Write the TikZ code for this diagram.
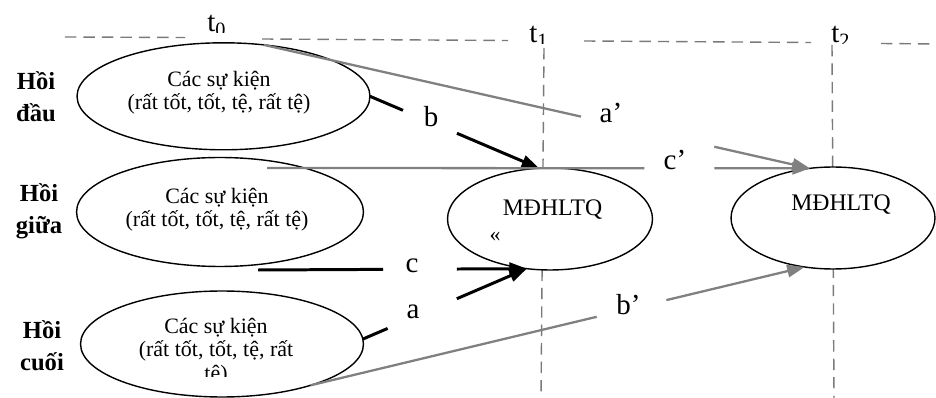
\documentclass[tikz,border=0pt]{standalone}
\usepackage{fontspec}
\setmainfont{Liberation Serif}
\usetikzlibrary{arrows.meta,calc,shapes.geometric}
\definecolor{ink}{HTML}{000000}
\definecolor{ink2}{HTML}{808080}
\definecolor{ink3}{HTML}{7A7A7A}
\tikzset{
  every picture/.style={line join=round},
  evt/.style={ellipse, draw=ink, fill=white, line width=0.8pt, inner sep=0pt, outer sep=0pt},
  evtxt/.style={font=\fontsize{12.5}{13.3}\selectfont, align=center, inner sep=0pt},
  mtxt/.style={font=\fontsize{13.5}{15}\selectfont, inner sep=0pt},
  hoi/.style={font=\fontsize{14}{18}\selectfont\bfseries, align=center, inner sep=0pt},
  tlbl/.style={font=\fontsize{16.5}{18}\selectfont, inner sep=0pt, anchor=base},
  timeline/.style={draw=ink3, line width=0.8pt, dash pattern=on 6.5pt off 4pt},
  blkline/.style={draw=ink, line width=1.7pt},
  blkarr/.style={blkline, -{Triangle[length=10pt,width=7pt]}},
  gryline/.style={draw=ink2, line width=1.3pt},
  gryarr/.style={gryline, -{Triangle[length=10pt,width=7pt]}},
}
\begin{document}
\begin{tikzpicture}[x=0.02cm, y=-0.02cm]
  \useasboundingbox (0,0) rectangle (936,398);
  % ---------------- time axis ----------------
  \draw[timeline] (65,37) -- (185,37.5);
  \draw[timeline] (262,39) -- (508,40.5);
  \draw[timeline] (584,41) -- (811,42.5);
  \draw[timeline] (881,43.5) -- (936,44);
  \draw[timeline] (544,48) -- (541,398);
  \draw[timeline] (832,45) -- (834,398);
  \begin{scope}
    \clip (195,0) rectangle (240,32.5) (520,0) rectangle (560,43.5) (820,0) rectangle (860,43.5);
    \node[tlbl, anchor=base west] (t0) at (207,32) {t\textsubscript{0}};
    \node[tlbl, anchor=base west] (t1) at (529,43) {t\textsubscript{1}};
    \node[tlbl, anchor=base west] (t2) at (831,43) {t\textsubscript{2}};
  \end{scope}

  % ---------------- events and states ----------------
  \node[evt, minimum width=5.86cm, minimum height=2.14cm] (E1) at (223.5,96.3) {};
  \node[evt, minimum width=5.74cm, minimum height=2.18cm] (E2) at (220,212) {};
  \node[evt, minimum width=5.66cm, minimum height=2.12cm] (E3) at (222,344) {};
  \node[evt, minimum width=4.1cm, minimum height=2.04cm] (M1) at (550,219) {};
  \node[evt, minimum width=4.08cm, minimum height=2.04cm] (M2) at (833,218) {};

  \node[evtxt] (E1t) at (219,93) {Các sự kiện\\(rất tốt, tốt, tệ, rất tệ)};
  \node[evtxt] (E2t) at (217,210) {Các sự kiện\\(rất tốt, tốt, tệ, rất tệ)};
  \begin{scope}
    \clip (100,300) rectangle (340,376);
    \node[evtxt] (E3t) at (216,351.5) {Các sự kiện\\(rất tốt, tốt, tệ, rất\\tệ)};
  \end{scope}
  \node[mtxt, anchor=base] (M1t) at (552.5,216) {MĐHLTQ};
  \node[evtxt, anchor=base] (M1q) at (495,242) {«};
  \node[mtxt, anchor=base] (M2t) at (841,211) {MĐHLTQ};

  \node[hoi] (L1) at (36,97) {Hồi\\đầu};
  \node[hoi] (L2) at (39,211) {Hồi\\giữa};
  \node[hoi] (L3) at (42,346) {Hồi\\cuối};

  % ---------------- influences ----------------
  \coordinate (cpS) at (267,168);
  \coordinate (cS) at (258,270);
  % b
  \draw[blkline] (E1.east) -- ($(E1.east)!0.195!(M1.102)$);
  \draw[blkarr] ($(E1.east)!0.514!(M1.102)$) -- (M1.102);
  % c
  \draw[blkline] (cS) -- ($(cS)!0.465!(M1.-115)$);
  \draw[blkarr] ($(cS)!0.74!(M1.-115)$) -- (M1.-115);
  % a
  \draw[blkline] (E3.2) -- ($(E3.2)!0.151!(M1.-115)$);
  \draw[blkarr] ($(E3.2)!0.573!(M1.-115)$) -- (M1.-115);
  % a'
  \draw[gryline] (E1.52) -- ($(E1.52)!0.581!(M2.115)$);
  \draw[gryarr] ($(E1.52)!0.825!(M2.115)$) -- (M2.115);
  % c'
  \draw[gryline] (cpS) -- ($(cpS)!0.695!(M2.115)$);
  \draw[gryarr] ($(cpS)!0.824!(M2.115)$) -- (M2.115);
  % b'
  \draw[gryline] (E3.-25) -- ($(E3.-25)!0.579!(M2.-120)$);
  \draw[gryarr] ($(E3.-25)!0.72!(M2.-120)$) -- (M2.-120);

  \node[tlbl] (lb) at (431,126.7) {b};
  \node[tlbl] (lc) at (412,273) {c};
  \node[tlbl] (la) at (413,318) {a};
  \node[tlbl] (lap) at (611,123) {a’};
  \node[tlbl] (lcp) at (675,170) {c’};
  \node[tlbl] (lbp) at (628.5,314.7) {b’};
\end{tikzpicture}
\end{document}
